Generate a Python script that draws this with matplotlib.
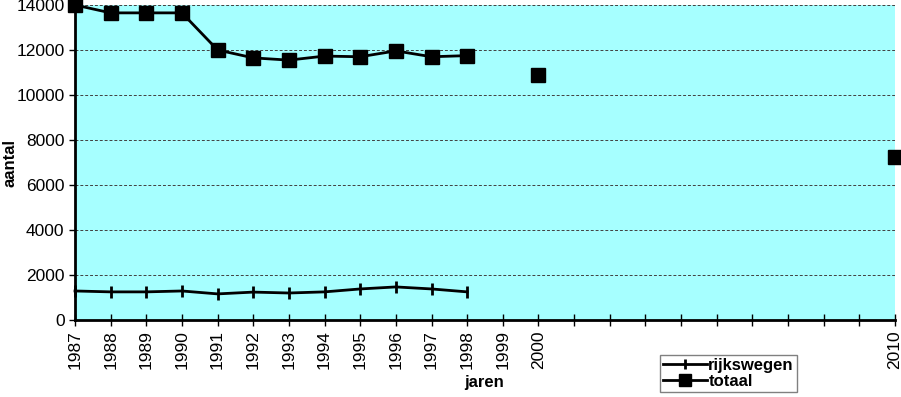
import numpy as np
import matplotlib
matplotlib.use("Agg")
import matplotlib.pyplot as plt

plt.rcParams['font.family'] = ['Liberation Sans', 'DejaVu Sans']

jaren = list(range(1987, 2011))
labels_shown = [str(j) if (j <= 2000 or j == 2010) else "" for j in jaren]

# NaN = geen gegevens
totaal = [14000, 13650, 13650, 13650, 12000, 11650, 11550, 11730, 11700, 11960, 11700, 11750,
          np.nan, 10890] + [np.nan] * 9 + [7240]
rijkswegen = [1290, 1250, 1250, 1290, 1160, 1240, 1200, 1250, 1380, 1470, 1380, 1250] + [np.nan] * 12

fig = plt.figure(figsize=(9.01, 3.97), dpi=100)
ax = fig.add_axes([75/901, 77/397, 820/901, 315/397])
ax.set_facecolor('#a6ffff')

x = np.arange(len(jaren))
ax.plot(x, rijkswegen, color='black', lw=2, marker='|', markersize=9, mew=2,
        label='rijkswegen', clip_on=False, zorder=3)
ax.plot(x, totaal, color='black', lw=2, marker='s', markersize=10,
        label='totaal', clip_on=False, zorder=3)

ax.set_xlim(0, len(jaren) - 1)
ax.set_ylim(0, 14000)
ax.set_yticks(range(0, 14001, 2000))
ax.yaxis.grid(True, linestyle=(0, (3, 2)), color='#404040', lw=0.7)
ax.set_axisbelow(True)

ax.set_xticks(x)
ax.set_xticklabels(labels_shown, rotation=90, fontsize=12.5)
ax.tick_params(axis='x', direction='inout', length=8, width=1)
ax.tick_params(axis='y', direction='out', length=4, width=1, labelsize=12.5)

for s in ['top', 'right']:
    ax.spines[s].set_visible(False)
ax.spines['left'].set_linewidth(2)
ax.spines['bottom'].set_linewidth(2)

fig.text(10/901, 1 - 163/397, 'aantal', rotation=90, ha='center', va='center',
         fontsize=12, fontweight='bold')
fig.text(484/901, 1 - 383/397, 'jaren', ha='center', va='center',
         fontsize=12, fontweight='bold')

leg = fig.legend(loc='lower left', bbox_to_anchor=(660/901, 5/397),
                 fancybox=False, edgecolor='#808080', framealpha=1, handlelength=2.6,
                 borderpad=0.2, labelspacing=0.05, handletextpad=0.1, borderaxespad=0,
                 markerscale=0.8, prop={'weight': 'bold', 'size': 12})
leg.get_frame().set_linewidth(1)

fig.savefig('out.png', dpi=100)
